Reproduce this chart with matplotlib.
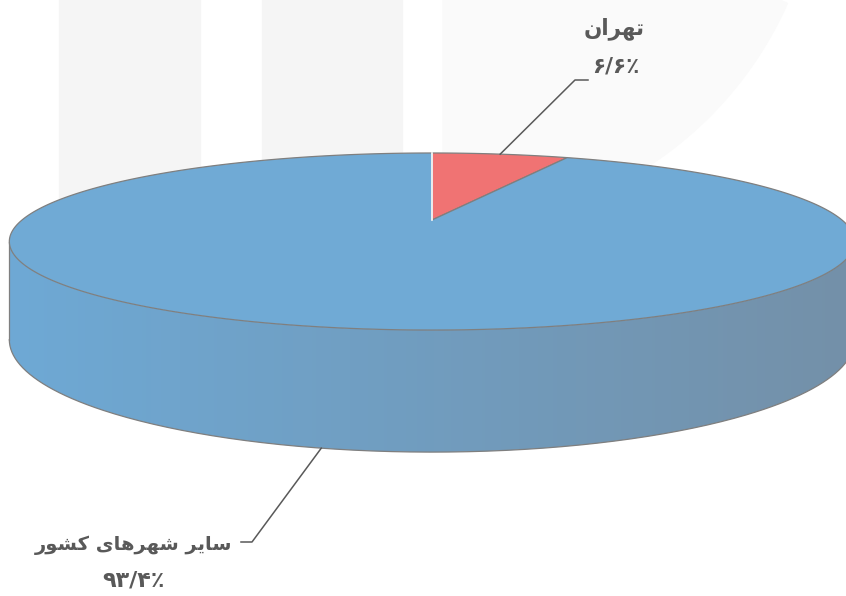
import numpy as np
import matplotlib
matplotlib.use("Agg")
import matplotlib.pyplot as plt
from matplotlib.patches import Polygon, Rectangle
from matplotlib.colors import to_rgb

# داده‌های نمودار
labels = ["تهران", "سایر شهرهای کشور"]
values = [6.6, 93.4]
colors = ["#F07373", "#70AAD5"]

# matplotlib شکل‌دهی عربی/فارسی ندارد؛ حروف را به شکل‌های نمایشی تبدیل می‌کنیم
FORMS = {
    'ت': ('\uFE95', '\uFE96', '\uFE97', '\uFE98'),
    'ه': ('\uFEE9', '\uFEEA', '\uFEEB', '\uFEEC'),
    'ر': ('\uFEAD', '\uFEAE', None, None),
    'ا': ('\uFE8D', '\uFE8E', None, None),
    'ن': ('\uFEE5', '\uFEE6', '\uFEE7', '\uFEE8'),
    'س': ('\uFEB1', '\uFEB2', '\uFEB3', '\uFEB4'),
    'ی': ('\uFEEF', '\uFEF0', '\uFEF3', '\uFEF4'),
    'ش': ('\uFEB5', '\uFEB6', '\uFEB7', '\uFEB8'),
    'ک': ('\uFB8E', '\uFB8F', '\uFEDB', '\uFEDC'),
    'و': ('\uFEED', '\uFEEE', None, None),
}


def shape(txt):
    out = []
    for i, ch in enumerate(txt):
        if ch not in FORMS:
            out.append(ch)
            continue
        prev = txt[i - 1] if i > 0 else ''
        nxt = txt[i + 1] if i + 1 < len(txt) else ''
        join_prev = prev in FORMS and FORMS[prev][2] is not None
        join_next = nxt in FORMS and FORMS[ch][2] is not None
        iso, fin, ini, med = FORMS[ch]
        if join_prev and join_next:
            out.append(med)
        elif join_prev:
            out.append(fin)
        elif join_next:
            out.append(ini)
        else:
            out.append(iso)
    return ''.join(out)[::-1]


def fa_pct(v):
    s = ("%g" % v).replace('.', '/')
    return s.translate(str.maketrans('0123456789', '۰۱۲۳۴۵۶۷۸۹')) + '٪'


plt.rcParams['font.family'] = ['DejaVu Sans']

W, H = 846, 596
fig = plt.figure(figsize=(W / 100, H / 100), dpi=100)
ax = fig.add_axes([0, 0, 1, 1])
ax.axis('off')

# واترمارک کم‌رنگ پس‌زمینه
ax.add_patch(Rectangle((59, 0), 141, 205, color='#F5F5F5', zorder=0))
ax.add_patch(Rectangle((262, 0), 140, 205, color='#F5F5F5', zorder=0))
arc = [(443 + 377 * np.sin(a), -150 + 377 * np.cos(a)) for a in np.linspace(0, np.radians(66), 80)]
ax.add_patch(Polygon([(443, -150)] + arc, closed=True, color='#FAFAFA', zorder=0))

# هندسه‌ی پای سه‌بعدی با پرسپکتیو ساده
cx, cy, a, b, d, p = 432, 220, 410, 83.3, 92.4, 0.243


def top_pt(th):
    X, Z = np.sin(th), -np.cos(th)
    s = 1 / (1 - p * Z)
    return cx + a * X * s, cy + b * Z * s, s


def bot_pt(th):
    x, y, s = top_pt(th)
    return x, y + d * s


# دیواره‌ی جلویی با گرادیان
th_l, th_r = np.arccos(-p), 2 * np.pi - np.arccos(-p)
ths = np.linspace(th_l, th_r, 300)
side_top = np.array([top_pt(t)[:2] for t in ths])
side_bot = np.array([bot_pt(t) for t in ths])
side = Polygon(np.vstack([side_top, side_bot[::-1]]), closed=True,
               facecolor='none', edgecolor='none', zorder=2)
ax.add_patch(side)
c_left, c_right = np.array(to_rgb('#6EA9D5')), np.array(to_rgb('#7490A8'))
g = np.linspace(0, 1, 256)[:, None]
grad = (c_left * (1 - g) + c_right * g)[None, :, :]
im = ax.imshow(grad, extent=(8, 860, 470, 220), aspect='auto', zorder=2,
               interpolation='bilinear')
im.set_clip_path(side)
ax.plot(side_bot[:, 0], side_bot[:, 1], color='#7F7F7F', lw=0.9, zorder=3)
for tt in (th_l, th_r):
    x0, y0, _ = top_pt(tt)
    x1, y1 = bot_pt(tt)
    ax.plot([x0, x1], [y0, y1], color='#7F7F7F', lw=0.9, zorder=3)

# سطح بالایی: برش‌ها از روی مقادیر
fr = np.cumsum([0] + values) / sum(values)
for i in range(len(values)):
    tt = np.linspace(2 * np.pi * fr[i], 2 * np.pi * fr[i + 1], 300)
    pts = [(cx, cy)] + [top_pt(v)[:2] for v in tt]
    ax.add_patch(Polygon(pts, closed=True, facecolor=colors[i], edgecolor='#7F7F7F',
                         lw=0.9, zorder=4))
x0, y0, _ = top_pt(0)
ax.plot([cx, x0], [cy, y0], color='white', lw=1.2, zorder=5)

# برچسب‌ها و خطوط راهنما
tcol = '#595959'
mid0 = np.pi * (fr[0] + fr[1])
sx, sy, _ = top_pt(mid0)
ax.plot([sx, 575, 588], [sy, 80, 80], color='#595959', lw=1.1, zorder=6)
ax.text(614, 29, shape(labels[0]), ha='center', va='center', fontsize=15.5,
        fontweight='bold', color=tcol)
ax.text(616, 67, fa_pct(values[0]), ha='center', va='center', fontsize=15.5,
        fontweight='bold', color=tcol)

mid1 = np.pi * (fr[1] + fr[2])
sx, sy = bot_pt(mid1)
ax.plot([sx, 252, 241], [sy, 542, 542], color='#595959', lw=1.1, zorder=6)
ax.text(134, 545, shape(labels[1]), ha='center', va='center', fontsize=14,
        fontweight='bold', color=tcol)
ax.text(133, 580, fa_pct(values[1]), ha='center', va='center', fontsize=16,
        fontweight='bold', color=tcol)

ax.set_xlim(0, W)
ax.set_ylim(H, 0)
fig.savefig('out.png', dpi=100)
